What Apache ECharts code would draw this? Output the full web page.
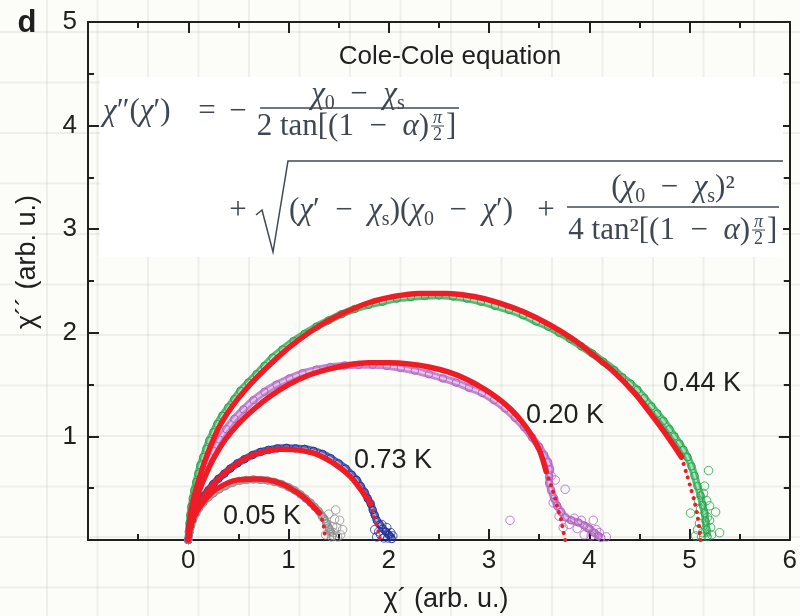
<!DOCTYPE html>
<html>
<head>
<meta charset="utf-8">
<script src="https://cdn.jsdelivr.net/npm/echarts@6/dist/echarts.min.js"></script>
<style>
  html, body { margin: 0; padding: 0; }
  #chart {
    width: 800px; height: 616px;
    background-color: #fcfcf8;
    background-image:
      linear-gradient(to right, rgba(110,110,90,0.09) 2px, transparent 2px),
      linear-gradient(to bottom, rgba(110,110,90,0.09) 2px, transparent 2px);
    background-size: 50.5px 50.5px;
    background-position: 46px 31px;
  }
</style>
</head>
<body>
<div id="chart"></div>
<script>
// ---- tick values and labels ----
const xTickValues = [-1, 0, 1, 2, 3, 4, 5, 6];
const yTickValues = [0, 1, 2, 3, 4, 5];
const xAxisTitle = 'χ´ (arb. u.)';
const yAxisTitle = 'χ´´ (arb. u.)';
const tempLabels = ['0.05 K', '0.73 K', '0.20 K', '0.44 K'];

// ---- 0.05 K : measured points (grey) ----
const data005 = [[0,0],[0.01,0.07],[0.03,0.14],[0.05,0.20],[0.08,0.26],[0.11,0.31],[0.15,0.36],[0.20,0.41],
  [0.25,0.45],[0.31,0.49],[0.37,0.52],[0.44,0.55],[0.51,0.57],[0.58,0.58],[0.65,0.585],[0.72,0.58],
  [0.79,0.575],[0.86,0.56],[0.93,0.54],[1.00,0.51],[1.06,0.48],[1.12,0.44],[1.17,0.40],[1.22,0.36],
  [1.26,0.32],[1.30,0.28],[1.33,0.24],[1.36,0.20],[1.38,0.16],[1.40,0.12],[1.42,0.08],[1.44,0.04]];
const tail005 = [[1.47,0.29],[1.54,0.10],[1.49,0.03],[1.41,0.10],[1.38,0.16],[1.44,0.13],[1.34,0.22],
  [1.43,0.03],[1.51,0.19],[1.46,0.20],[1.40,0.25],[1.48,0.12],[1.52,0.05],[1.37,0.05],[1.45,0.07]];
const fit005 = [[0,0],[0.02,0.12],[0.05,0.21],[0.10,0.30],[0.17,0.39],[0.25,0.47],[0.35,0.53],[0.45,0.57],
  [0.56,0.585],[0.66,0.59],[0.76,0.585],[0.86,0.565],[0.96,0.53],[1.05,0.48],[1.13,0.43],[1.20,0.37],
  [1.26,0.31],[1.31,0.26]];
const fitTail005 = [[1.31,0.26],[1.33,0.21],[1.35,0.14],[1.36,0.07],[1.37,0.01]];

// ---- 0.73 K : measured points (blue) ----
const data073 = [[0,0],[0.01,0.07],[0.02,0.13],[0.04,0.19],[0.06,0.25],[0.09,0.31],[0.12,0.37],[0.16,0.43],
  [0.20,0.48],[0.25,0.54],[0.30,0.59],[0.36,0.64],[0.42,0.69],[0.49,0.74],[0.56,0.78],[0.64,0.82],
  [0.72,0.85],[0.80,0.87],[0.89,0.885],[0.98,0.89],[1.07,0.885],[1.16,0.88],[1.25,0.86],[1.34,0.83],
  [1.42,0.79],[1.50,0.74],[1.57,0.69],[1.63,0.63],[1.68,0.58],[1.72,0.52],[1.76,0.46],[1.79,0.40],
  [1.82,0.35],[1.84,0.29],[1.86,0.24],[1.88,0.19],[1.91,0.15],[1.94,0.11],[1.97,0.08],[2.00,0.05],
  [2.02,0.03],[2.03,0.01]];
const tail073 = [[1.90,0.08],[1.88,0.03],[1.95,0.02],[1.93,0.15],[1.98,0.12],[2.02,0.07],[1.86,0.10],
  [1.92,0.05],[1.99,0.02],[2.04,0.04]];
const fit073 = [[0,0],[0.02,0.12],[0.05,0.22],[0.10,0.33],[0.16,0.43],[0.24,0.53],[0.34,0.63],[0.46,0.72],
  [0.60,0.80],[0.75,0.85],[0.92,0.875],[1.08,0.87],[1.24,0.84],[1.38,0.78],[1.51,0.70],[1.62,0.61],
  [1.71,0.50],[1.77,0.42],[1.82,0.35]];
const fitTail073 = [[1.82,0.35],[1.84,0.28],[1.86,0.21],[1.88,0.14],[1.90,0.07],[1.91,0.0]];

// ---- 0.20 K : measured points (purple) ----
const data020 = [[0,0],[0.01,0.10],[0.03,0.22],[0.06,0.36],[0.10,0.50],[0.14,0.62],[0.19,0.74],[0.25,0.86],
  [0.31,0.97],[0.38,1.07],[0.46,1.17],[0.55,1.26],[0.65,1.35],[0.76,1.43],[0.88,1.50],[1.01,1.56],
  [1.14,1.61],[1.28,1.645],[1.42,1.67],[1.56,1.685],[1.70,1.69],[1.84,1.69],[1.98,1.68],[2.12,1.66],
  [2.26,1.635],[2.40,1.60],[2.54,1.56],[2.67,1.52],[2.80,1.47],[2.93,1.42],[3.05,1.35],[3.16,1.27],
  [3.26,1.18],[3.35,1.09],[3.43,0.99],[3.50,0.90],[3.55,0.82],[3.59,0.75],[3.61,0.68],[3.60,0.61],
  [3.60,0.55],[3.62,0.48],[3.65,0.40],[3.68,0.33],[3.72,0.27],[3.76,0.22],[3.82,0.19],[3.89,0.17],
  [3.95,0.14],[4.00,0.11],[4.05,0.07],[4.09,0.04],[4.12,0.02]];
const tail020 = [[3.21,0.19],[3.76,0.49],[4.04,0.19],[4.17,0.03],[3.85,0.21],[3.92,0.19],[3.98,0.12],
  [4.07,0.10],[3.80,0.15],[3.88,0.11],[4.02,0.04],[3.70,0.23],[3.64,0.36],[3.66,0.58],[3.62,0.62],
  [3.95,0.05],[4.10,0.07],[3.74,0.12]];
const fit020 = [[0,0],[0.02,0.15],[0.05,0.30],[0.10,0.45],[0.17,0.62],[0.26,0.80],[0.37,0.97],[0.50,1.12],
  [0.65,1.26],[0.82,1.39],[1.00,1.50],[1.20,1.59],[1.40,1.65],[1.60,1.69],[1.80,1.71],[2.00,1.71],
  [2.20,1.70],[2.40,1.67],[2.60,1.62],[2.78,1.55],[2.95,1.46],[3.10,1.36],[3.22,1.26],[3.33,1.14],
  [3.43,1.00],[3.51,0.85],[3.57,0.66]];
const fitTail020 = [[3.57,0.66],[3.62,0.52],[3.66,0.40],[3.69,0.29],[3.72,0.19],[3.74,0.09],[3.76,0.0]];

// ---- 0.44 K : measured points (green) ----
const data044 = [[0,0],[0.005,0.08],[0.012,0.16],[0.02,0.24],[0.03,0.32],[0.045,0.40],[0.06,0.48],[0.08,0.56],
  [0.10,0.64],[0.12,0.72],[0.15,0.80],[0.18,0.88],[0.21,0.96],[0.25,1.04],[0.29,1.12],[0.34,1.20],
  [0.40,1.28],[0.46,1.36],[0.52,1.44],[0.60,1.52],[0.68,1.60],[0.76,1.68],[0.84,1.76],[0.94,1.84],
  [1.05,1.92],[1.16,1.99],[1.28,2.06],[1.40,2.12],[1.53,2.18],[1.66,2.23],[1.80,2.27],[1.94,2.30],
  [2.08,2.33],[2.22,2.345],[2.36,2.355],[2.50,2.36],[2.64,2.35],[2.78,2.33],[2.92,2.30],[3.06,2.26],
  [3.20,2.22],[3.34,2.17],[3.47,2.11],[3.59,2.06],[3.70,2.00],[3.81,1.94],[3.92,1.87],[4.03,1.80],
  [4.14,1.72],[4.25,1.64],[4.33,1.57],[4.41,1.51],[4.48,1.45],[4.55,1.37],[4.62,1.29],[4.68,1.22],
  [4.74,1.15],[4.80,1.07],[4.85,1.00],[4.90,0.93],[4.94,0.87],[4.98,0.80],[5.02,0.71],[5.05,0.62],
  [5.08,0.52],[5.11,0.43],[5.13,0.34],[5.15,0.26],[5.16,0.18],[5.17,0.10],[5.18,0.03]];
const tail044 = [[5.19,0.67],[5.26,0.27],[5.30,0.07],[5.01,0.26],[5.20,0.19],[5.13,0.07],[5.08,0.10],
  [5.10,0.16],[5.12,0.03],[5.21,0.12],[5.14,0.45],[5.17,0.38],[5.11,0.30],[5.22,0.05],[5.06,0.04],
  [5.18,0.22],[5.15,0.52],[5.09,0.38],[5.20,0.33]];
const fit044 = [[0,0],[0.01,0.15],[0.03,0.30],[0.08,0.50],[0.18,0.80],[0.33,1.13],[0.57,1.45],[0.90,1.77],
  [1.10,1.93],[1.33,2.08],[1.55,2.19],[1.80,2.29],[2.05,2.35],[2.30,2.38],[2.57,2.38],[2.85,2.35],
  [3.10,2.29],[3.35,2.20],[3.60,2.08],[3.85,1.93],[4.05,1.78],[4.25,1.62],[4.45,1.42],[4.62,1.21],
  [4.78,1.00],[4.92,0.80]];
const fitTail044 = [[4.92,0.80],[4.97,0.64],[5.01,0.51],[5.05,0.37],[5.08,0.23],[5.10,0.10],[5.11,0.0]];

// ---- styling ----
const INK = '#202020';
const RED = '#ee1c25';
const MATH = '#3f4852';
const SANS = "'Liberation Sans', Arial, Helvetica, sans-serif";
const SERIF = "'Liberation Serif', 'Times New Roman', serif";
const COLORS = { k005: '#8e8e8e', k073: '#23309a', k020: '#b060c2', k044: '#1fa54a' };

function band(pts, color) {
  return [
    { type: 'line', data: pts, smooth: 0.3, showSymbol: false, silent: true, z: 2,
      lineStyle: { color: color, width: 7.5, opacity: 0.75 } },
    { type: 'line', data: pts, smooth: 0.3, symbol: 'circle', symbolSize: 7.5, silent: true, z: 3,
      lineStyle: { color: '#ffffff', width: 2.2, opacity: 0.5 },
      itemStyle: { color: 'rgba(0,0,0,0)', borderColor: color, borderWidth: 1 } }
  ];
}
function scatterTail(pts, color) {
  return { type: 'scatter', data: pts, symbol: 'circle', symbolSize: 8.5, silent: true, z: 3,
    itemStyle: { color: 'rgba(0,0,0,0)', borderColor: color, borderWidth: 1 } };
}
function fitLine(pts) {
  return { type: 'line', data: pts, smooth: 0.35, showSymbol: false, silent: true, z: 6,
    lineStyle: { color: RED, width: 5.5, cap: 'round' } };
}
function fitDots(pts) {
  return { type: 'line', data: pts, smooth: 0.3, showSymbol: false, silent: true, z: 6,
    lineStyle: { color: RED, width: 4, type: [0.1, 7], cap: 'round' } };
}

const series = [].concat(
  band(data044, COLORS.k044), [scatterTail(tail044, COLORS.k044)],
  band(data020, COLORS.k020), [scatterTail(tail020, COLORS.k020)],
  band(data073, COLORS.k073), [scatterTail(tail073, COLORS.k073)],
  band(data005, COLORS.k005), [scatterTail(tail005, COLORS.k005)],
  [fitLine(fit044), fitDots(fitTail044),
   fitLine(fit020), fitDots(fitTail020),
   fitLine(fit073), fitDots(fitTail073),
   fitLine(fit005), fitDots(fitTail005)]
);

const tickStyle = { color: INK, width: 2 };
function xAxisDef(pos, showLabels) {
  return {
    type: 'value', position: pos, min: xTickValues[0], max: xTickValues[xTickValues.length - 1], interval: 1,
    axisLine: { show: true, onZero: false, lineStyle: { color: INK, width: 2 } },
    axisTick: { show: true, inside: true, length: 11, lineStyle: tickStyle },
    minorTick: { show: true, splitNumber: 2, length: 6, lineStyle: tickStyle },
    splitLine: { show: false },
    axisLabel: { show: showLabels, margin: 8, fontSize: 26, color: INK, fontFamily: SANS,
      formatter: v => (v < 0 ? '' : String(v)) }
  };
}
function yAxisDef(pos, showLabels) {
  return {
    type: 'value', position: pos, min: yTickValues[0], max: yTickValues[yTickValues.length - 1], interval: 1,
    axisLine: { show: true, onZero: false, lineStyle: { color: INK, width: 2 } },
    axisTick: { show: true, inside: true, length: 11, lineStyle: tickStyle },
    minorTick: { show: true, splitNumber: 2, length: 6, lineStyle: tickStyle },
    splitLine: { show: false },
    axisLabel: { show: showLabels, margin: 11, fontSize: 26, color: INK, fontFamily: SANS,
      formatter: v => (v <= 0 ? '' : String(v)) }
  };
}

// ---- Cole-Cole formula pieces ----
const FS = 31;
const rich = {
  i: { fontStyle: 'italic', fontFamily: SERIF, fontSize: FS, lineHeight: 38 },
  sub: { fontFamily: SERIF, fontSize: 20, lineHeight: 24, verticalAlign: 'bottom' }
};
function mathText(text, x, y, align, size) {
  const fs = size || FS;
  return { type: 'text', x: x, y: y, silent: true, z: 10,
    style: { text: text, fill: MATH, fontFamily: SERIF, fontSize: fs, lineHeight: size ? fs + 2 : 38,
      align: align, verticalAlign: 'middle', rich: size ? undefined : rich } };
}
function smallItalic(text, x, y) {
  return { type: 'text', x: x, y: y, silent: true, z: 10,
    style: { text: text, fill: MATH, fontFamily: SERIF, fontStyle: 'italic', fontSize: 18,
      align: 'center', verticalAlign: 'middle' } };
}
function bar(x1, x2, y, w) {
  return { type: 'line', silent: true, z: 10,
    shape: { x1: x1, y1: y, x2: x2, y2: y }, style: { stroke: MATH, lineWidth: w || 1.4 } };
}
const E = '\u2002';   // en space around binary operators
const MINUS = '\u2212';

const formula = [
  { type: 'rect', silent: true, z: 9, shape: { x: 100, y: 77, width: 683, height: 180 },
    style: { fill: '#ffffff' } },
  // first row
  mathText('{i|χ}″({i|χ}′)', 103, 112, 'left'),
  mathText('=', 207, 112, 'center'),
  mathText(MINUS, 238, 112, 'center'),
  mathText('{i|χ}{sub|0}' + E + MINUS + E + '{i|χ}{sub|s}', 358, 95, 'center'),
  bar(260, 459, 108),
  mathText('2 tan[(1' + E + MINUS + E + '{i|α})', 429, 127, 'right'),
  smallItalic('π', 437.5, 118),
  bar(431, 444, 126, 1),
  mathText('2', 437.5, 135, 'center', 18),
  mathText(']', 446, 127, 'left'),
  // second row
  mathText('+', 238, 211, 'center'),
  { type: 'polyline', silent: true, z: 10,
    shape: { points: [[256, 215], [262, 210], [273, 252], [288, 161], [783, 161]] },
    style: { stroke: MATH, lineWidth: 1.5, fill: null } },
  mathText('({i|χ}′' + E + MINUS + E + '{i|χ}{sub|s})({i|χ}{sub|0}' + E + MINUS + E + '{i|χ}′)', 289, 211, 'left'),
  mathText('+', 546, 211, 'center'),
  mathText('({i|χ}{sub|0}' + E + MINUS + E + '{i|χ}{sub|s})²', 673, 188, 'center'),
  bar(567, 779, 207),
  mathText('4 tan²[(1' + E + MINUS + E + '{i|α})', 750, 231, 'right'),
  smallItalic('π', 758.5, 222),
  bar(752, 765, 230, 1),
  mathText('2', 758.5, 239, 'center', 18),
  mathText(']', 767, 231, 'left')
];

function sansText(text, x, y, size, extra) {
  return Object.assign({ type: 'text', x: x, y: y, silent: true, z: 10,
    style: { text: text, fill: INK, fontFamily: SANS, fontSize: size, align: 'center', verticalAlign: 'middle' } },
    extra || {});
}

const annotations = [
  sansText('Cole-Cole equation', 450, 57, 26),
  sansText(tempLabels[0], 262, 517, 27),
  sansText(tempLabels[1], 393, 461, 27),
  sansText(tempLabels[2], 565, 416, 27),
  sansText(tempLabels[3], 702, 384, 27),
  { type: 'text', x: 27, y: 23, silent: true, z: 10,
    style: { text: 'd', fill: INK, fontFamily: SANS, fontWeight: 'bold', fontSize: 31,
      align: 'center', verticalAlign: 'middle' } },
  sansText(xAxisTitle, 446, 600, 27),
  sansText(yAxisTitle, 28, 262, 27, { rotation: Math.PI / 2 })
];

const chart = echarts.init(document.getElementById('chart'), null, { renderer: 'canvas' });
chart.setOption({
  animation: false,
  backgroundColor: 'transparent',
  grid: { left: 88, right: 7, top: 22, bottom: 76, containLabel: false },
  xAxis: [xAxisDef('bottom', true), xAxisDef('top', false)],
  yAxis: [yAxisDef('left', true), yAxisDef('right', false)],
  series: series,
  graphic: { elements: formula.concat(annotations) }
});
</script>
</body>
</html>
